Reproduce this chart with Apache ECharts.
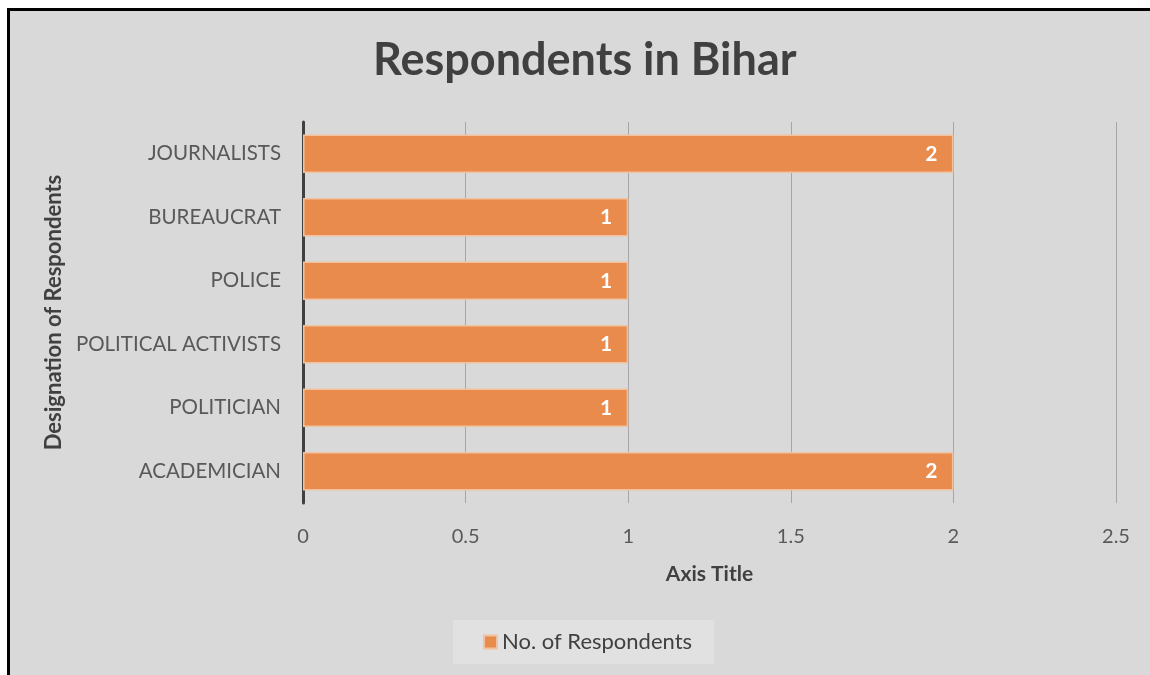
<!DOCTYPE html>
<html>
<head>
<meta charset="utf-8">
<script src="https://cdn.jsdelivr.net/npm/echarts@6/dist/echarts.min.js"></script>
<style>
  html, body { margin: 0; padding: 0; background: #ffffff; }
  #frame {
    position: absolute; left: 7px; top: 8px; width: 1143px; height: 667px;
    box-sizing: border-box; background: #d9d9d9;
    border-left: 3px solid #000; border-top: 3px solid #000;
  }
  #chart { position: absolute; left: 0; top: 0; width: 1150px; height: 675px; }
</style>
</head>
<body>
<div id="frame"></div>
<div id="chart"></div>
<script>
// Designations, listed bottom to top as ECharts stacks a category y-axis
const categories = ['ACADEMICIAN', 'POLITICIAN', 'POLITICAL ACTIVISTS', 'POLICE', 'BUREAUCRAT', 'JOURNALISTS'];
const respondents = [2, 1, 1, 1, 1, 2];
const seriesName = 'No. of Respondents';
const xTicks = [0, 0.5, 1, 1.5, 2, 2.5];

const FONT = 'Lato, "Open Sans", sans-serif';
const chart = echarts.init(document.getElementById('chart'), null, { renderer: 'canvas' });

chart.setOption({
  backgroundColor: 'transparent',
  animation: false,
  textStyle: { fontFamily: FONT },
  title: {
    text: 'Respondents in Bihar',
    left: 368,
    top: 33,
    textStyle: { fontFamily: FONT, fontSize: 45, fontWeight: 'bold', color: '#404040' }
  },
  legend: {
    data: [seriesName],
    left: 453,
    top: 620,
    backgroundColor: '#e1e1e1',
    padding: [11, 22, 11, 30],
    itemWidth: 13,
    itemHeight: 13,
    itemGap: 6,
    icon: 'rect',
    textStyle: { fontFamily: FONT, fontSize: 22, color: '#404040' }
  },
  grid: { left: 303, right: 34, top: 122, bottom: 172, containLabel: false },
  xAxis: {
    type: 'value',
    min: xTicks[0],
    max: xTicks[xTicks.length - 1],
    interval: 0.5,
    name: 'Axis Title',
    nameLocation: 'middle',
    nameGap: 61,
    nameTextStyle: { fontFamily: FONT, fontSize: 21, fontWeight: 'bold', color: '#404040' },
    axisLine: { show: false },
    axisTick: { show: false },
    axisLabel: { margin: 24, fontSize: 20, color: '#595959', fontFamily: FONT },
    splitLine: { show: true, lineStyle: { color: '#a6a6a6', width: 1 } }
  },
  yAxis: {
    type: 'category',
    data: categories,
    name: 'Designation of Respondents',
    nameLocation: 'middle',
    nameRotate: 90,
    nameGap: 223,
    nameTextStyle: { fontFamily: FONT, fontSize: 22, fontWeight: 'bold', color: '#404040' },
    axisLine: { show: true, lineStyle: { color: '#404040', width: 3 } },
    axisTick: { show: false },
    axisLabel: { margin: 22, fontSize: 20.5, color: '#595959', fontFamily: FONT },
    splitLine: { show: false }
  },
  series: [{
    name: seriesName,
    type: 'bar',
    data: respondents,
    barCategoryGap: '39%',
    itemStyle: { color: '#e98b4c', borderColor: '#f2c2a0', borderWidth: 1.5 },
    label: {
      show: true,
      position: 'insideRight',
      distance: 16,
      fontFamily: FONT,
      fontSize: 21,
      fontWeight: 'bold',
      color: '#ffffff'
    }
  }]
});
</script>
</body>
</html>
